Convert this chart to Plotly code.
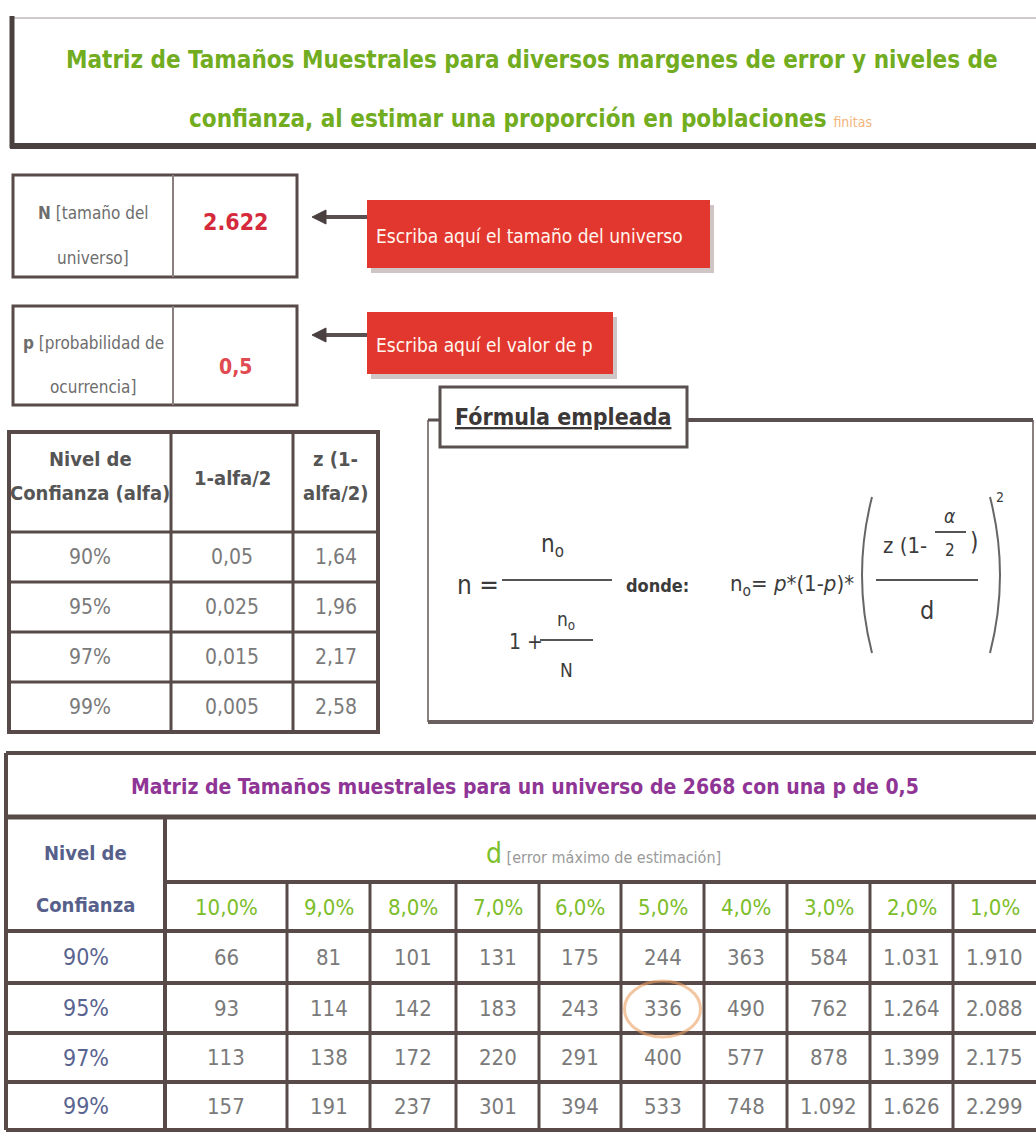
import plotly.graph_objects as go

# ---------------- data ----------------
main_title_l1 = "Matriz de Tamaños Muestrales para diversos margenes de error y niveles de"
main_title_l2 = "confianza, al estimar una proporción en poblaciones"
main_title_note = "finitas"
N_label = ["<b>N</b> [tamaño del", "universo]"]
N_value = 2622
p_label = ["<b>p</b> [probabilidad de", "ocurrencia]"]
p_value = 0.5
N_hint = "Escriba aquí el tamaño del universo"
p_hint = "Escriba aquí el valor de p"
formula_title = "Fórmula empleada"
conf_header = [["Nivel de", "Confianza (alfa)"], ["1-alfa/2"], ["z (1-", "alfa/2)"]]
conf_levels = ["90%", "95%", "97%", "99%"]
alpha_half = [0.05, 0.025, 0.015, 0.005]
z_values = [1.64, 1.96, 2.17, 2.58]
matrix_title = "Matriz de Tamaños muestrales para un universo de 2668 con una p de 0,5"
row_header = ["Nivel de", "Confianza"]
d_header = "d"
d_note = "[error máximo de estimación]"
d_levels = [10.0, 9.0, 8.0, 7.0, 6.0, 5.0, 4.0, 3.0, 2.0, 1.0]
sample_sizes = [
    [66, 81, 101, 131, 175, 244, 363, 584, 1031, 1910],
    [93, 114, 142, 183, 243, 336, 490, 762, 1264, 2088],
    [113, 138, 172, 220, 291, 400, 577, 878, 1399, 2175],
    [157, 191, 237, 301, 394, 533, 748, 1092, 1626, 2299],
]
highlight = (1, 5)  # 95% / 5,0% circled


def es_dec(v, nd=None):
    s = f"{v:.{nd}f}" if nd is not None else f"{v:g}"
    return s.replace(".", ",")


def es_int(v):
    return f"{v:,}".replace(",", ".")


# ---------------- styling / layout ----------------
W, H = 1036, 1139
FONT = "DejaVu Sans Condensed, Liberation Sans, sans-serif"
LINE = "#574a48"
GREEN = "#72ac1f"
GRAY_TXT = "#7a7a7a"
DARK_TXT = "#444444"

shapes = []
annots = []


def line(x0, y0, x1, y1, w=3, c=LINE):
    shapes.append(dict(type="line", xref="x", yref="y", x0=x0, y0=y0, x1=x1, y1=y1,
                       line=dict(color=c, width=w)))


def rect(x0, y0, x1, y1, w=3, c=LINE, fill="rgba(0,0,0,0)"):
    shapes.append(dict(type="rect", xref="x", yref="y", x0=x0, y0=y0, x1=x1, y1=y1,
                       line=dict(color=c, width=w), fillcolor=fill, layer="above"))


def text(x, y, s, size=20, color=DARK_TXT, xanchor="center", yanchor="middle", font=FONT):
    annots.append(dict(x=x, y=y, xref="x", yref="y", text=s, showarrow=False,
                       xanchor=xanchor, yanchor=yanchor,
                       font=dict(family=font, size=size, color=color)))


# ---- main title box ----
line(12, 18, 1036, 18, w=2, c="#cfcaca")
line(12, 16, 12, 148, w=5, c="#4a4040")
line(10, 146, 1036, 146, w=6, c="#4a4040")
text(532, 60, "<b>" + main_title_l1 + "</b>", size=24, color=GREEN)
text(530, 119, "<b>" + main_title_l2 + '</b> <span style="font-size:14px;color:#f2b47a">'
     + main_title_note + "</span>", size=24, color=GREEN)

# ---- N and p input boxes ----
inp_x = [13, 173, 297]
inp_rows = [(175, 277), (306, 405)]
inp_labels = [N_label, p_label]
label_y = [(213, 258), (343, 387)]
value_y = [222, 367]
inp_values = [es_int(N_value), es_dec(p_value)]
inp_colors = ["#d42a3c", "#e04a50"]
hints = [N_hint, p_hint]
hint_boxes = [(367, 200, 710, 268), (367, 312, 613, 374)]
arrow_y = [217, 335]
for i, (y0, y1) in enumerate(inp_rows):
    rect(inp_x[0], y0, inp_x[2], y1, w=3)
    line(inp_x[1], y0, inp_x[1], y1, w=2, c="#8a7f7e")
    text((inp_x[0] + inp_x[1]) / 2, label_y[i][0], inp_labels[i][0], size=17, color="#6d6d6d")
    text((inp_x[0] + inp_x[1]) / 2, label_y[i][1], inp_labels[i][1], size=17, color="#6d6d6d")
    text((inp_x[1] + inp_x[2]) / 2, value_y[i], "<b>" + inp_values[i] + "</b>",
         size=23 if i == 0 else 21, color=inp_colors[i])
    bx0, by0, bx1, by1 = hint_boxes[i]
    shapes.append(dict(type="rect", xref="x", yref="y", x0=bx0 + 4, y0=by0 + 5, x1=bx1 + 4, y1=by1 + 5,
                       line=dict(width=0), fillcolor="rgba(120,90,90,0.35)", layer="below"))
    shapes.append(dict(type="rect", xref="x", yref="y", x0=bx0, y0=by0, x1=bx1, y1=by1,
                       line=dict(width=0), fillcolor="#e2372f", layer="below"))
    text(bx0 + 7, (by0 + by1) / 2 + 2, hints[i], size=19, color="#fff6ee", xanchor="left")
    ya = arrow_y[i]
    line(322, ya, bx0, ya, w=4, c="#5a5050")
    shapes.append(dict(type="path", xref="x", yref="y",
                       path=f"M 312,{ya} L 326,{ya - 7} L 326,{ya + 7} Z",
                       fillcolor="#4a4040", line=dict(color="#4a4040", width=1)))

# ---- confidence table ----
ct_x = [9, 171, 293, 378]
ct_y = [432, 532, 582, 632, 682, 732]
rect(ct_x[0], ct_y[0], ct_x[-1], ct_y[-1], w=4)
for xv in ct_x[1:-1]:
    line(xv, ct_y[0], xv, ct_y[-1], w=3)
for yv in ct_y[1:-1]:
    line(ct_x[0], yv, ct_x[-1], yv, w=3)
for j, hl in enumerate(conf_header):
    xc = (ct_x[j] + ct_x[j + 1]) / 2
    if len(hl) == 1:
        text(xc, 478, "<b>" + hl[0] + "</b>", size=20, color="#555")
    else:
        text(xc, 459, "<b>" + hl[0] + "</b>", size=20, color="#555")
        text(xc, 493, "<b>" + hl[1] + "</b>", size=20, color="#555")
cols = [conf_levels, [es_dec(a) for a in alpha_half], [es_dec(z, 2) for z in z_values]]
for j, colv in enumerate(cols):
    for i, v in enumerate(colv):
        text((ct_x[j] + ct_x[j + 1]) / 2, (ct_y[i + 1] + ct_y[i + 2]) / 2, v, size=21, color=GRAY_TXT)

# ---- formula box ----
fb = (428, 420, 1033, 722)
line(fb[0], fb[1], fb[0], fb[3], w=2, c="#8a8080")
line(fb[0], fb[3], fb[2], fb[3], w=4, c="#6a6060")
line(fb[2], fb[1], fb[2], fb[3], w=2, c="#8a8080")
line(fb[0], fb[1], 440, fb[1], w=3, c="#5a5050")
line(687, fb[1], fb[2], fb[1], w=4, c="#5a5050")
rect(440, 387, 687, 447, w=3, c="#5a5050", fill="white")
text(563, 417, "<b><u>" + formula_title + "</u></b>", size=23, color="#3d3838")
FC = "#3b3b3b"
text(478, 585, "n =", size=26, color=FC)
line(502, 580, 612, 580, w=2, c="#555")
text(552, 545, "n<sub>o</sub>", size=24, color=FC)
text(526, 642, "1 +", size=21, color=FC)
line(540, 640, 593, 640, w=2, c="#555")
text(566, 620, "n<sub>o</sub>", size=19, color=FC)
text(566, 670, "N", size=19, color=FC)
text(657, 585, "<b>donde:</b>", size=18, color=FC)
text(728, 585, "n<sub>o</sub>= <i>p</i>*(1-<i>p</i>)*", size=22, color=FC, xanchor="left")
shapes.append(dict(type="path", xref="x", yref="y", path="M 872,497 Q 852,575 872,653",
                   line=dict(color="#666", width=2)))
shapes.append(dict(type="path", xref="x", yref="y", path="M 990,497 Q 1010,575 990,653",
                   line=dict(color="#666", width=2)))
text(1000, 497, "2", size=14, color=FC)
text(929, 545, "z (1-", size=22, color=FC, xanchor="right")
text(950, 516, "<i>α</i>", size=19, color=FC)
line(935, 532, 966, 532, w=2, c="#555")
text(950, 550, "2", size=17, color=FC)
text(974, 542, ")", size=24, color=FC)
line(876, 580, 978, 580, w=2, c="#555")
text(927, 610, "d", size=25, color=FC)

# ---- sample size matrix ----
mx = [6, 165, 287, 370, 456, 539, 621, 704, 787, 870, 953, 1036]
my_top, my_title, my_d, my_pct = 753, 817, 882, 931
my_rows = [931, 983, 1033, 1082, 1130]
line(6, my_top, 1036, my_top, w=4)
line(6, my_top, 6, my_rows[-1], w=4)
line(6, my_title, 1036, my_title, w=5)
line(mx[1], my_title, mx[1], my_rows[-1], w=4)
line(mx[1], my_d, 1036, my_d, w=4)
for xv in mx[2:-1]:
    line(xv, my_d, xv, my_rows[-1], w=3)
for yv in my_rows:
    line(6, yv, 1036, yv, w=4)
text(525, (my_top + my_title) / 2 + 2, "<b>" + matrix_title + "</b>", size=21, color="#8f3596")
hx = (mx[0] + mx[1]) / 2
text(hx, 853, "<b>" + row_header[0] + "</b>", size=20, color="#56608a")
text(hx, 905, "<b>" + row_header[1] + "</b>", size=20, color="#56608a")
text(603, (my_title + my_d) / 2 + 4,
     '<span style="font-size:28px;color:#7cc02c">' + d_header + '</span> ' + d_note,
     size=16, color="#9a9a9a")
for j, d in enumerate(d_levels):
    text((mx[j + 1] + mx[j + 2]) / 2, (my_d + my_pct) / 2 + 1, es_dec(d, 1) + "%", size=22, color="#7cbd2a")
for i, lvl in enumerate(conf_levels):
    yc = (my_rows[i] + my_rows[i + 1]) / 2
    text(hx, yc, lvl, size=23, color="#5a6490")
    for j, v in enumerate(sample_sizes[i]):
        text((mx[j + 1] + mx[j + 2]) / 2, yc, es_int(v), size=22, color=GRAY_TXT)

hi, hj = highlight
cx = (mx[hj + 1] + mx[hj + 2]) / 2
cy = (my_rows[hi] + my_rows[hi + 1]) / 2
shapes.append(dict(type="circle", xref="x", yref="y", x0=cx - 38, y0=cy - 27, x1=cx + 38, y1=cy + 29,
                   line=dict(color="rgba(235,160,100,0.6)", width=3)))

fig = go.Figure()
fig.add_trace(go.Scatter(x=[0, W], y=[0, H], mode="markers", marker=dict(opacity=0),
                         hoverinfo="skip", showlegend=False))
fig.update_layout(
    width=W, height=H, margin=dict(l=0, r=0, t=0, b=0),
    paper_bgcolor="white", plot_bgcolor="white",
    xaxis=dict(range=[0, W], visible=False, fixedrange=True),
    yaxis=dict(range=[H, 0], visible=False, fixedrange=True),
    shapes=shapes, annotations=annots, showlegend=False,
)
fig.write_html("out.html", config={"displayModeBar": False},
               post_script="document.body.style.margin='0';document.body.style.overflow='hidden';")
